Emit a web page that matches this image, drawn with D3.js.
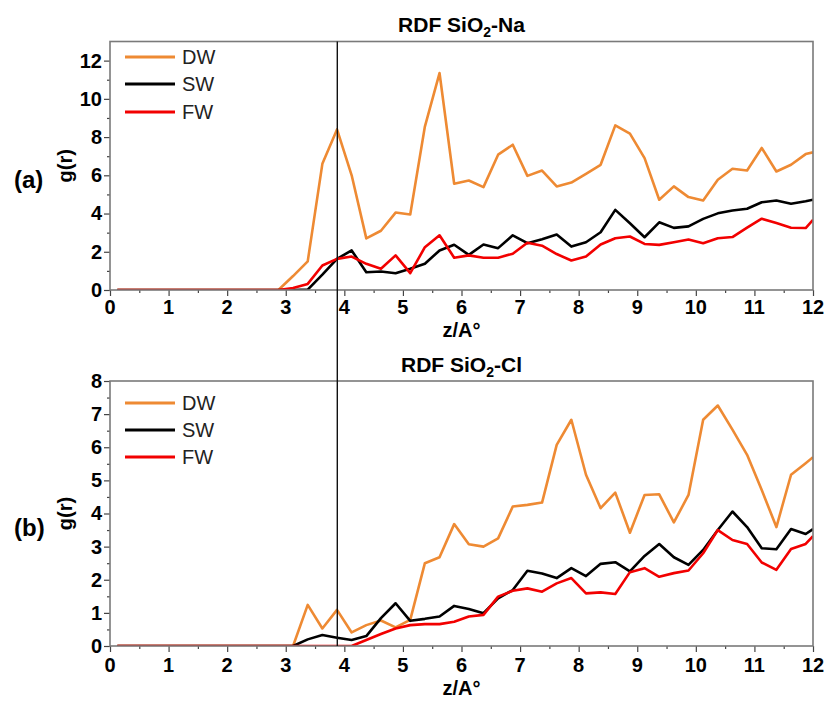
<!DOCTYPE html>
<html>
<head>
<meta charset="utf-8">
<script src="https://cdn.jsdelivr.net/npm/d3@7/dist/d3.min.js"></script>
<style>
  body { margin: 0; background: #fff; }
  svg { display: block; font-family: "Liberation Sans", Arial, sans-serif; }
</style>
</head>
<body>
<div id="chart"></div>
<script>
// z positions of the samples (A)
const zValues = [0.125, 0.375, 0.625, 0.875, 1.125, 1.375, 1.625, 1.875, 2.125, 2.375, 2.625, 2.875,
  3.125, 3.375, 3.625, 3.875, 4.125, 4.375, 4.625, 4.875, 5.125, 5.375, 5.625, 5.875,
  6.125, 6.375, 6.625, 6.875, 7.125, 7.375, 7.625, 7.875, 8.125, 8.375, 8.625, 8.875,
  9.125, 9.375, 9.625, 9.875, 10.125, 10.375, 10.625, 10.875, 11.125, 11.375, 11.625, 11.875, 12];

// (a) RDF SiO2-Na
const naDW = [0, 0, 0, 0, 0, 0, 0, 0, 0, 0, 0, 0,
  0.73, 1.5, 6.6, 8.4, 6.0, 2.7, 3.1, 4.05, 3.95, 8.55, 11.35, 5.56,
  5.73, 5.38, 7.08, 7.6, 5.97, 6.25, 5.42, 5.62, 6.08, 6.55, 8.61, 8.18,
  6.9, 4.72, 5.42, 4.86, 4.68, 5.77, 6.34, 6.25, 7.43, 6.2, 6.55, 7.11, 7.2];
const naSW = [0, 0, 0, 0, 0, 0, 0, 0, 0, 0, 0, 0,
  0, 0.02, 0.8, 1.63, 2.07, 0.93, 0.97, 0.88, 1.11, 1.37, 2.07, 2.37,
  1.84, 2.38, 2.19, 2.86, 2.45, 2.65, 2.9, 2.27, 2.5, 3.02, 4.19, 3.49,
  2.76, 3.54, 3.25, 3.33, 3.72, 4.01, 4.16, 4.25, 4.59, 4.68, 4.51, 4.64, 4.72];
const naFW = [0, 0, 0, 0, 0, 0, 0, 0, 0, 0, 0, 0,
  0.1, 0.32, 1.28, 1.63, 1.75, 1.37, 1.11, 1.81, 0.88, 2.24, 2.86, 1.69,
  1.81, 1.69, 1.69, 1.9, 2.47, 2.32, 1.88, 1.54, 1.75, 2.38, 2.71, 2.8,
  2.41, 2.36, 2.5, 2.64, 2.45, 2.71, 2.77, 3.26, 3.73, 3.5, 3.26, 3.24, 3.67];

// (b) RDF SiO2-Cl
const clDW = [0, 0, 0, 0, 0, 0, 0, 0, 0, 0, 0, 0,
  0, 1.24, 0.53, 1.09, 0.41, 0.63, 0.77, 0.56, 0.79, 2.5, 2.68, 3.68,
  3.07, 3.0, 3.25, 4.21, 4.26, 4.33, 6.07, 6.83, 5.17, 4.16, 4.63, 3.42,
  4.56, 4.58, 3.73, 4.56, 6.83, 7.26, 6.53, 5.77, 4.71, 3.59, 5.17, 5.52, 5.7];
const clSW = [0, 0, 0, 0, 0, 0, 0, 0, 0, 0, 0, 0,
  0, 0.2, 0.33, 0.25, 0.18, 0.3, 0.84, 1.29, 0.76, 0.82, 0.89, 1.21,
  1.12, 0.99, 1.44, 1.69, 2.27, 2.19, 2.05, 2.35, 2.11, 2.48, 2.53, 2.25,
  2.72, 3.08, 2.68, 2.45, 2.9, 3.5, 4.06, 3.59, 2.95, 2.92, 3.53, 3.38, 3.53];
const clFW = [0, 0, 0, 0, 0, 0, 0, 0, 0, 0, 0, 0,
  0, 0, 0, 0, 0, 0.18, 0.36, 0.53, 0.63, 0.66, 0.66, 0.73,
  0.89, 0.94, 1.49, 1.67, 1.74, 1.64, 1.89, 2.05, 1.59, 1.62, 1.57, 2.23,
  2.35, 2.09, 2.2, 2.28, 2.8, 3.5, 3.2, 3.08, 2.52, 2.3, 2.93, 3.08, 3.32];

const seriesNames = ["DW", "SW", "FW"];
const seriesColors = ["#ee8a33", "#000000", "#f20000"];
const xTicks = [0, 1, 2, 3, 4, 5, 6, 7, 8, 9, 10, 11, 12];
const refLineZ = 3.88;

const width = 827, height = 707;
const left = 110, right = 813;

const svg = d3.select("#chart").append("svg")
  .attr("width", width)
  .attr("height", height);

const x = d3.scaleLinear().domain([0, 12]).range([left, right]);

const panels = [
  { id: "a", title: ["RDF SiO", "2", "-Na"], top: 41.5, bottom: 290, yMax: 13, yMajor: 2,
    series: [naDW, naSW, naFW], tickBase: 314, legendY: [57, 84, 112] },
  { id: "b", title: ["RDF SiO", "2", "-Cl"], top: 381, bottom: 646, yMax: 8, yMajor: 1,
    series: [clDW, clSW, clFW], tickBase: 672, legendY: [403, 430, 457] }
];

panels.forEach(p => {
  const y = d3.scaleLinear().domain([0, p.yMax]).range([p.bottom, p.top]);
  const g = svg.append("g");

  // clip so the lines stop at the frame
  g.append("clipPath").attr("id", "clip-" + p.id)
    .append("rect")
    .attr("x", left).attr("y", p.top)
    .attr("width", right - left).attr("height", p.bottom - p.top);

  // x axis, major + minor ticks
  const xMinor = d3.range(0.5, 12, 1);
  g.append("g")
    .attr("transform", `translate(0,${p.bottom})`)
    .call(d3.axisBottom(x).tickValues(xMinor).tickSize(3).tickFormat(""))
    .call(a => a.select(".domain").remove());
  const xa = g.append("g")
    .attr("transform", `translate(0,${p.bottom})`)
    .call(d3.axisBottom(x).tickValues(xTicks).tickSize(6).tickFormat(""));
  xa.select(".domain").remove();
  g.selectAll(".xlab-" + p.id)
    .data(xTicks)
    .join("text")
    .attr("x", d => x(d))
    .attr("y", p.tickBase)
    .attr("text-anchor", "middle")
    .style("font-size", "20px")
    .style("font-weight", "bold")
    .text(d => d);

  // y axis
  const yMajorTicks = d3.range(0, p.yMax + 0.01, p.yMajor);
  const yMinorTicks = d3.range(p.yMajor / 2, p.yMax, p.yMajor);
  g.append("g")
    .attr("transform", `translate(${left},0)`)
    .call(d3.axisLeft(y).tickValues(yMinorTicks).tickSize(3).tickFormat(""))
    .call(a => a.select(".domain").remove());
  g.append("g")
    .attr("transform", `translate(${left},0)`)
    .call(d3.axisLeft(y).tickValues(yMajorTicks).tickSize(6).tickPadding(2).tickFormat(d3.format("d")))
    .call(a => a.select(".domain").remove())
    .call(a => a.selectAll("text")
      .style("font-size", "20px")
      .style("font-weight", "bold")
      .style("font-family", "'Liberation Sans', Arial, sans-serif")
      .attr("fill", "#000"));

  g.selectAll(".tick line").attr("stroke", "#444").attr("stroke-width", 1.2);

  // series lines
  const line = d3.line()
    .x((d, i) => x(zValues[i]))
    .y(d => y(d));
  g.append("g")
    .attr("clip-path", `url(#clip-${p.id})`)
    .selectAll("path")
    .data(p.series)
    .join("path")
    .attr("d", d => line(d))
    .attr("fill", "none")
    .attr("stroke", (d, i) => seriesColors[i])
    .attr("stroke-width", 2.6)
    .attr("stroke-linejoin", "round");

  // frame
  g.append("rect")
    .attr("x", left).attr("y", p.top)
    .attr("width", right - left).attr("height", p.bottom - p.top)
    .attr("fill", "none")
    .attr("stroke", "#7a7a7a")
    .attr("stroke-width", 1.6);

  // legend
  const lg = g.append("g");
  seriesNames.forEach((name, i) => {
    lg.append("line")
      .attr("x1", 125).attr("x2", 175)
      .attr("y1", p.legendY[i]).attr("y2", p.legendY[i])
      .attr("stroke", seriesColors[i])
      .attr("stroke-width", 3);
    lg.append("text")
      .attr("x", 182).attr("y", p.legendY[i] + 7)
      .style("font-size", "20px")
      .attr("fill", "#222")
      .text(name);
  });

  // title with subscript
  const t = g.append("text")
    .attr("x", (left + right) / 2)
    .attr("y", p.top - 9.5)
    .attr("text-anchor", "middle")
    .style("font-size", "21px")
    .style("font-weight", "bold");
  t.append("tspan").text(p.title[0]);
  t.append("tspan").attr("dy", 5).style("font-size", "14px").text(p.title[1]);
  t.append("tspan").attr("dy", -5).text(p.title[2]);

  // axis titles
  g.append("text")
    .attr("x", (left + right) / 2)
    .attr("y", p.tickBase + 23)
    .attr("text-anchor", "middle")
    .style("font-size", "20px")
    .style("font-weight", "bold")
    .text("z/A°");

  g.append("text")
    .attr("transform", `translate(72,${(p.top + p.bottom) / 2}) rotate(-90)`)
    .attr("text-anchor", "middle")
    .style("font-size", "20px")
    .style("font-weight", "bold")
    .text("g(r)");

  g.append("text")
    .attr("x", 14)
    .attr("y", (p.top + p.bottom) / 2 + 22)
    .style("font-size", "24px")
    .style("font-weight", "bold")
    .text("(" + p.id + ")");
});

// vertical reference line through both panels
svg.append("line")
  .attr("x1", x(refLineZ)).attr("x2", x(refLineZ))
  .attr("y1", panels[0].top).attr("y2", panels[1].bottom)
  .attr("stroke", "#111")
  .attr("stroke-width", 1.4);
</script>
</body>
</html>
